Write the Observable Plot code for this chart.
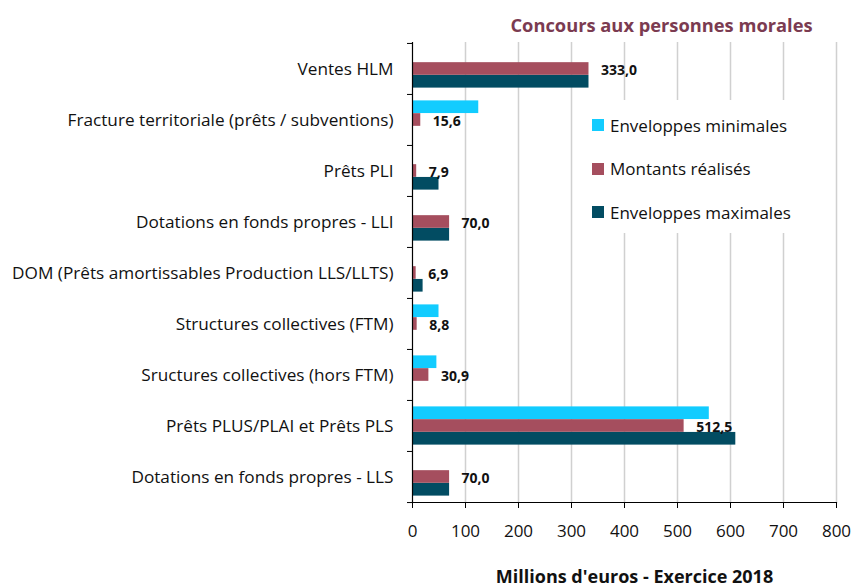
<!DOCTYPE html>
<html>
<head>
<meta charset="utf-8">
<script src="https://cdn.jsdelivr.net/npm/d3@7"></script>
<script src="https://cdn.jsdelivr.net/npm/@observablehq/plot@0.6"></script>
<style>
  html, body { margin: 0; padding: 0; background: #fff; }
  #wrap { position: relative; width: 855px; height: 587px; font-family: "Open Sans", sans-serif; }
  #legend { position: absolute; left: 585px; top: 100px; width: 215px; height: 133px; background: #fff; }
  .item { position: absolute; left: 7px; display: flex; align-items: center; font-size: 17px; color: #111; white-space: nowrap; }
  .sw { width: 12px; height: 12px; margin-right: 6px; }
</style>
</head>
<body>
<div id="wrap"></div>
<script>
const categories = [
  "Ventes HLM",
  "Fracture territoriale (prêts / subventions)",
  "Prêts PLI",
  "Dotations en fonds propres - LLI",
  "DOM (Prêts amortissables Production LLS/LLTS)",
  "Structures collectives (FTM)",
  "Sructures collectives (hors FTM)",
  "Prêts PLUS/PLAI et Prêts PLS",
  "Dotations en fonds propres - LLS"
];
const seriesNames = ["Enveloppes minimales", "Montants réalisés", "Enveloppes maximales"];
const enveloppesMin = [null, 125, null, null, null, 50, 46, 560, null];
const montantsRealises = [333.0, 15.6, 7.9, 70.0, 6.9, 8.8, 30.9, 512.5, 70.0];
const enveloppesMax = [333, null, 50, 70, 20, null, null, 610, 70];
const xTicks = [0, 100, 200, 300, 400, 500, 600, 700, 800];
const title = "Concours aux personnes morales";
const xLabel = "Millions d'euros - Exercice 2018";

const colors = ["#12CCFF", "#A54E5E", "#024C62"];

const W = 855, H = 587, mt = 42, mb = 85, ml = 412, mr = 19;
const bw = (H - mt - mb) / categories.length;
const step = bw / 4;

function rows(vals) {
  return categories.map((c, i) => ({cat: c, v: vals[i]})).filter(d => d.v != null);
}
const seriesData = [enveloppesMin, montantsRealises, enveloppesMax].map(rows);

const fmt = v => v.toFixed(1).replace(".", ",");

const barMarks = seriesData.map((data, i) => Plot.barX(data, {
  x: "v", y: "cat", fill: colors[i],
  insetTop: step * (0.5 + i),
  insetBottom: bw - step * (1.5 + i)
}));

const chart = Plot.plot({
  width: W, height: H,
  marginTop: mt, marginBottom: mb, marginLeft: ml, marginRight: mr,
  style: {fontFamily: "Open Sans, sans-serif", fontSize: "17px", color: "#111", background: "transparent"},
  x: {domain: [0, 800]},
  y: {domain: categories, padding: 0},
  marks: [
    Plot.gridX(xTicks.slice(1), {stroke: "#d0d0d0", strokeOpacity: 1, strokeWidth: 1.5}),
    ...barMarks,
    Plot.text(seriesData[1], {
      x: "v", y: "cat", text: d => fmt(d.v), textAnchor: "start",
      dx: 12, dy: 2, fontWeight: "bold", fontSize: 14, fill: "#111"
    }),
    Plot.ruleX([0], {stroke: "#000", strokeWidth: 1.2}),
    Plot.frame({anchor: "bottom", stroke: "#000", strokeWidth: 1.2}),
    Plot.axisX({ticks: xTicks, tickSize: 6, tickPadding: 16, tickFormat: d => String(d), label: null, fontSize: 17, stroke: "#000"}),
    Plot.axisY({tickSize: 0, tickPadding: 19, label: null, fontSize: 17.2}),
    Plot.axisY({text: null, tickSize: 5, dy: -bw / 2, label: null, stroke: "#000"}),
    Plot.axisY({ticks: [categories[categories.length - 1]], text: null, tickSize: 5, dy: bw / 2, label: null, stroke: "#000"}),
    Plot.text([title], {frameAnchor: "top", lineAnchor: "middle", dx: 37, dy: -16, fontWeight: "bold", fontSize: 18.3, fill: "#7B3B51"}),
    Plot.text([xLabel], {frameAnchor: "bottom", lineAnchor: "middle", dx: 10, dy: 75, fontWeight: "bold", fontSize: 18, fill: "#111"})
  ]
});

const wrap = document.getElementById("wrap");
wrap.appendChild(chart);

const legend = document.createElement("div");
legend.id = "legend";
seriesNames.forEach((name, i) => {
  const it = document.createElement("div");
  it.className = "item";
  it.style.top = (25 + 43.5 * i - 12) + "px";
  it.style.height = "24px";
  const sw = document.createElement("span");
  sw.className = "sw";
  sw.style.background = colors[i];
  const t = document.createElement("span");
  t.textContent = name;
  it.appendChild(sw);
  it.appendChild(t);
  legend.appendChild(it);
});
wrap.appendChild(legend);
</script>
</body>
</html>
